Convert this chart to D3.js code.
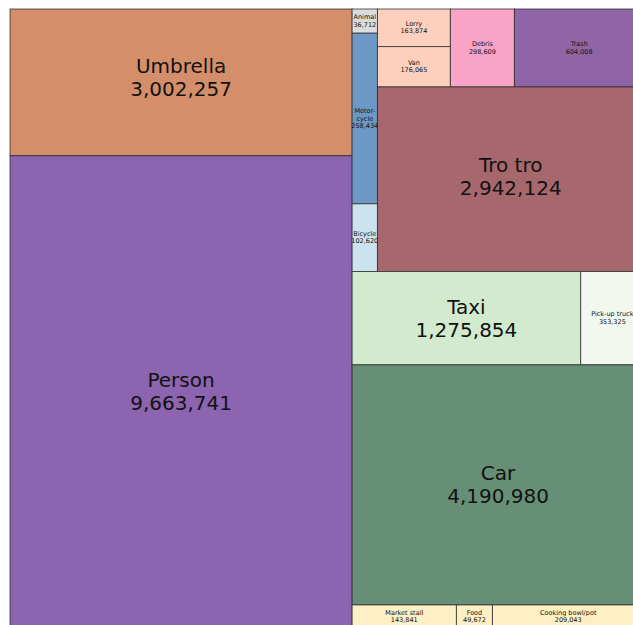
<!DOCTYPE html>
<html lang="en">
<head>
    <meta charset="UTF-8">
    <title>Detected objects treemap</title>
    <script src="https://d3js.org/d3.v7.min.js"></script>
    <style>
        body { margin: 0; background: #fff; }
        svg { display: block; }
        .cell-label { font-family: "DejaVu Sans", sans-serif; fill: #111; text-anchor: middle; }
    </style>
</head>
<body>
    <div id="chart"></div>
    <script>
        // Categories and counts
        const categories = ["Person", "Umbrella", "Car", "Tro tro", "Taxi", "Pick-up truck",
            "Trash", "Debris", "Lorry", "Van", "Animal", "Motorcycle", "Bicycle",
            "Market stall", "Food", "Cooking bowl/pot"];
        const counts = [9663741, 3002257, 4190980, 2942124, 1275854, 353325,
            604008, 298609, 163874, 176065, 36712, 258434, 102620,
            143841, 49672, 209043];
        // label lines shown in each cell (Motorcycle is hyphenated)
        const labelNames = {"Motorcycle": ["Motor-", "cycle"]};
        const bigLabels = ["Person", "Umbrella", "Car", "Tro tro", "Taxi"];
        // small vertical nudges of a few labels
        const labelShift = {"Umbrella": -5, "Tro tro": -3};

        const colors = {
            "Person": "#8c64b0", "Umbrella": "#d48f6a", "Car": "#678f77", "Tro tro": "#a7686d",
            "Taxi": "#d2ebcf", "Pick-up truck": "#f2f8f0", "Trash": "#9065a7", "Debris": "#f9a3c7",
            "Lorry": "#fdcfbd", "Van": "#fdcfbd", "Animal": "#dcdcdc", "Motorcycle": "#6c98c5",
            "Bicycle": "#cbe2ef", "Market stall": "#fef0c4", "Food": "#fef0c4", "Cooking bowl/pot": "#fef0c4"
        };

        // grouping of the tiles: "h" splits left-to-right, "v" top-to-bottom
        const layout = {dir: "h", children: [
            {dir: "v", children: ["Umbrella", "Person"]},
            {dir: "v", children: [
                {dir: "h", children: [
                    {dir: "v", children: ["Animal", "Motorcycle", "Bicycle"]},
                    {dir: "v", children: [
                        {dir: "h", children: [
                            {dir: "v", children: ["Lorry", "Van"]},
                            "Debris", "Trash"]},
                        "Tro tro"]}
                ]},
                {dir: "h", children: ["Taxi", "Pick-up truck"]},
                "Car",
                {dir: "h", children: ["Market stall", "Food", "Cooking bowl/pot"]}
            ]}
        ]};

        const width = 633;
        const height = 625;
        // plot area (runs a bit past the right and bottom edges of the picture)
        const x0 = 10, y0 = 9, x1 = 644, y1 = 628;

        function build(n) {
            if (typeof n === "string") return {name: n, value: counts[categories.indexOf(n)]};
            return {dir: n.dir, children: n.children.map(build)};
        }

        const root = d3.hierarchy(build(layout))
            .sum(d => d.value || 0);

        const tile = (node, a, b, c, d) =>
            (node.data.dir === "h" ? d3.treemapDice : d3.treemapSlice)(node, a, b, c, d);

        d3.treemap()
            .tile(tile)
            .size([x1 - x0, y1 - y0])
            .round(false)(root);

        const svg = d3.select("#chart")
            .append("svg")
            .attr("width", width)
            .attr("height", height);

        const fmt = d3.format(",");

        const cell = svg.append("g")
            .attr("transform", `translate(${x0},${y0})`)
            .selectAll("g.cell")
            .data(root.leaves())
            .join("g")
            .attr("class", "cell");

        cell.append("rect")
            .attr("x", d => d.x0)
            .attr("y", d => d.y0)
            .attr("width", d => d.x1 - d.x0)
            .attr("height", d => d.y1 - d.y0)
            .attr("fill", d => colors[d.data.name])
            .attr("stroke", "rgba(40,40,40,0.75)")
            .attr("stroke-width", 1);

        cell.each(function(d) {
            const big = bigLabels.includes(d.data.name);
            const lines = (labelNames[d.data.name] || [d.data.name]).concat([fmt(d.data.value)]);
            const fs = big ? 20 : 6.5;
            const lh = big ? 23 : 7.4;
            const cx = (d.x0 + d.x1) / 2;
            const cy = (d.y0 + d.y1) / 2 + (labelShift[d.data.name] || 0);
            d3.select(this).selectAll("text")
                .data(lines)
                .join("text")
                .attr("class", "cell-label")
                .attr("x", cx)
                .attr("y", (t, i) => cy + (i - (lines.length - 1) / 2) * lh)
                .attr("dominant-baseline", "central")
                .style("font-size", fs + "px")
                .text(t => t);
        });
    </script>
</body>
</html>
